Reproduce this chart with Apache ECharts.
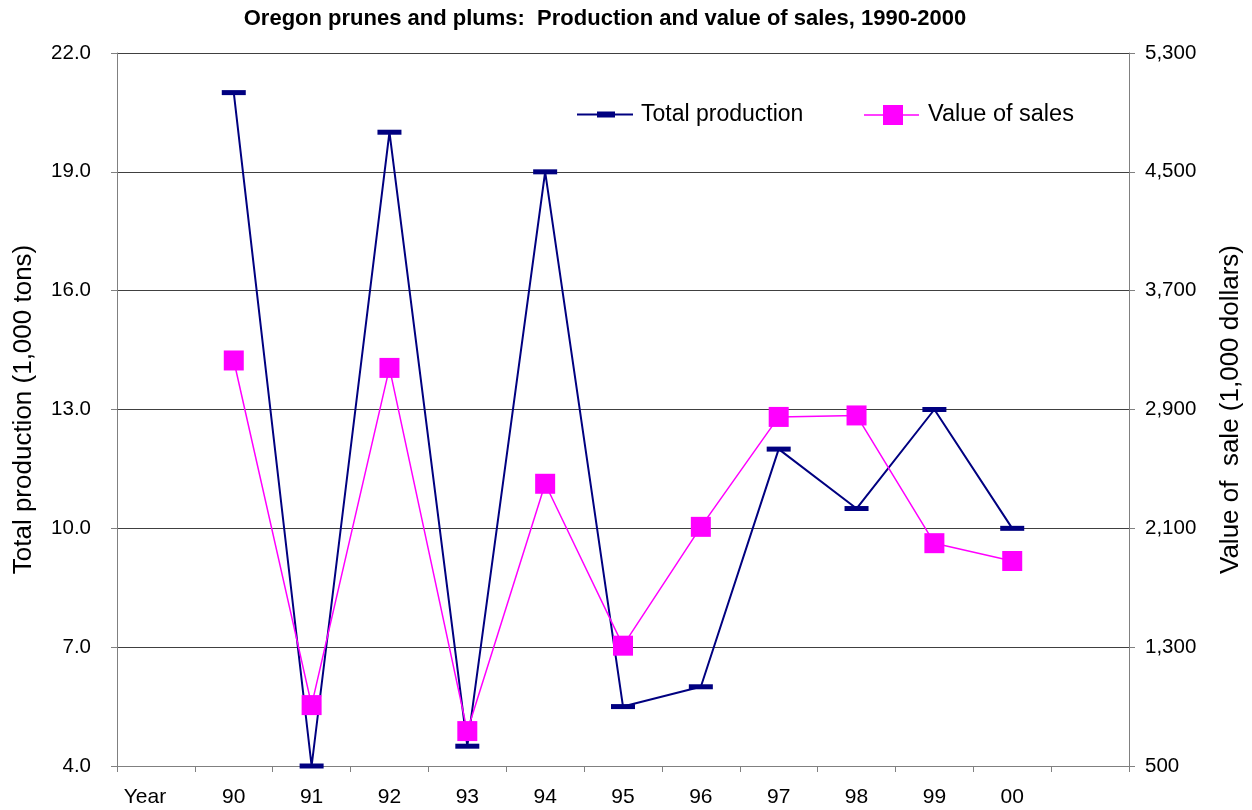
<!DOCTYPE html>
<html>
<head>
<meta charset="utf-8">
<title>Oregon prunes and plums</title>
<script src="https://cdn.jsdelivr.net/npm/echarts@6/dist/echarts.min.js"></script>
<style>
    html, body { margin: 0; padding: 0; background: #fff; }
    #chart_main { width: 1252px; height: 810px; }
</style>
</head>
<body>
<div id="chart_main"></div>
<script>
// categories: first slot is the "Year" caption, last slot is left empty
var years = ["Year", "90", "91", "92", "93", "94", "95", "96", "97", "98", "99", "00", ""];
// total production, 1,000 tons
var production = [null, 21.0, 4.0, 20.0, 4.5, 19.0, 5.5, 6.0, 12.0, 10.5, 13.0, 10.0, null];
// value of sales, 1,000 dollars
var sales = [null, 3230, 910, 3180, 735, 2400, 1310, 2110, 2850, 2860, 2000, 1880, null];

var leftAxis = { min: 4, max: 22, interval: 3 };
var rightAxis = { min: 500, max: 5300, interval: 800 };

var fontName = "Liberation Sans";

var myChart = echarts.init(document.getElementById('chart_main'));

var option = {
    backgroundColor: '#fff',
    animation: false,
    textStyle: { fontFamily: fontName, color: '#000' },
    title: {
        text: 'Oregon prunes and plums:  Production and value of sales, 1990-2000',
        left: 605,
        textAlign: 'center',
        top: 8,
        padding: 0,
        textStyle: { fontFamily: fontName, fontSize: 22, fontWeight: 'bold', color: '#000' }
    },
    legend: [
        {
            left: 577,
            top: 103,
            padding: 0,
            itemWidth: 56,
            itemHeight: 6,
            itemStyle: { borderWidth: 0 },
            textStyle: { fontFamily: fontName, fontSize: 23, color: '#000', padding: [0, 0, 0, 3] },
            data: [{ name: 'Total production', icon: 'path://M0,2H56V4H0Z M20,0H38V6H20Z' }]
        },
        {
            left: 864,
            top: 103,
            padding: 0,
            itemWidth: 55,
            itemHeight: 20,
            itemStyle: { borderWidth: 0 },
            textStyle: { fontFamily: fontName, fontSize: 23.5, color: '#000', padding: [0, 0, 0, 4] },
            data: [{ name: 'Value of sales', icon: 'path://M0,9.25H55V10.75H0Z M19,0H39V20H19Z' }]
        }
    ],
    grid: { left: 117, right: 123, top: 53, bottom: 44 },
    xAxis: {
        type: 'category',
        data: years,
        boundaryGap: true,
        axisLine: { lineStyle: { color: '#808080', width: 1 } },
        axisTick: { show: true, interval: 0, length: 6, lineStyle: { color: '#808080' } },
        axisLabel: {
            interval: 0,
            margin: 21,
            fontSize: 21,
            color: '#000',
            formatter: function (v) {
                return v === 'Year' ? '{y|Year}' : v;
            },
            rich: { y: { fontSize: 21, fontFamily: fontName, padding: [0, 22, 0, 0] } }
        }
    },
    yAxis: [
        {
            type: 'value',
            min: leftAxis.min,
            max: leftAxis.max,
            interval: leftAxis.interval,
            name: 'Total production (1,000 tons)',
            nameLocation: 'middle',
            nameGap: 80,
            nameTextStyle: { fontFamily: fontName, fontSize: 26, color: '#000' },
            axisLine: { show: true, lineStyle: { color: '#808080' } },
            axisTick: { show: true, length: 6, lineStyle: { color: '#808080' } },
            axisLabel: {
                margin: 26,
                fontSize: 20.5,
                color: '#000',
                formatter: function (v) { return v.toFixed(1); }
            },
            splitLine: { show: true, lineStyle: { color: '#404040', width: 1 } }
        },
        {
            type: 'value',
            position: 'right',
            min: rightAxis.min,
            max: rightAxis.max,
            interval: rightAxis.interval,
            name: 'Value of  sale (1,000 dollars)',
            nameLocation: 'middle',
            nameGap: 89,
            nameTextStyle: { fontFamily: fontName, fontSize: 26, color: '#000' },
            axisLine: { show: true, lineStyle: { color: '#808080' } },
            axisTick: { show: true, length: 6, lineStyle: { color: '#808080' } },
            axisLabel: {
                margin: 16,
                fontSize: 20.5,
                color: '#000',
                formatter: function (v) { return v.toLocaleString('en-US'); }
            },
            splitLine: { show: false }
        }
    ],
    series: [
        {
            name: 'Total production',
            type: 'line',
            yAxisIndex: 0,
            data: production,
            symbol: 'rect',
            symbolSize: [24, 5],
            showAllSymbol: true,
            color: '#000080',
            lineStyle: { color: '#000080', width: 2 },
            itemStyle: { color: '#000080', borderWidth: 0 },
            z: 2
        },
        {
            name: 'Value of sales',
            type: 'line',
            yAxisIndex: 1,
            data: sales,
            symbol: 'rect',
            symbolSize: [20, 20],
            showAllSymbol: true,
            color: '#FF00FF',
            lineStyle: { color: '#FF00FF', width: 1.5 },
            itemStyle: { color: '#FF00FF', borderWidth: 0 },
            z: 3
        }
    ]
};

myChart.setOption(option);
</script>
</body>
</html>
